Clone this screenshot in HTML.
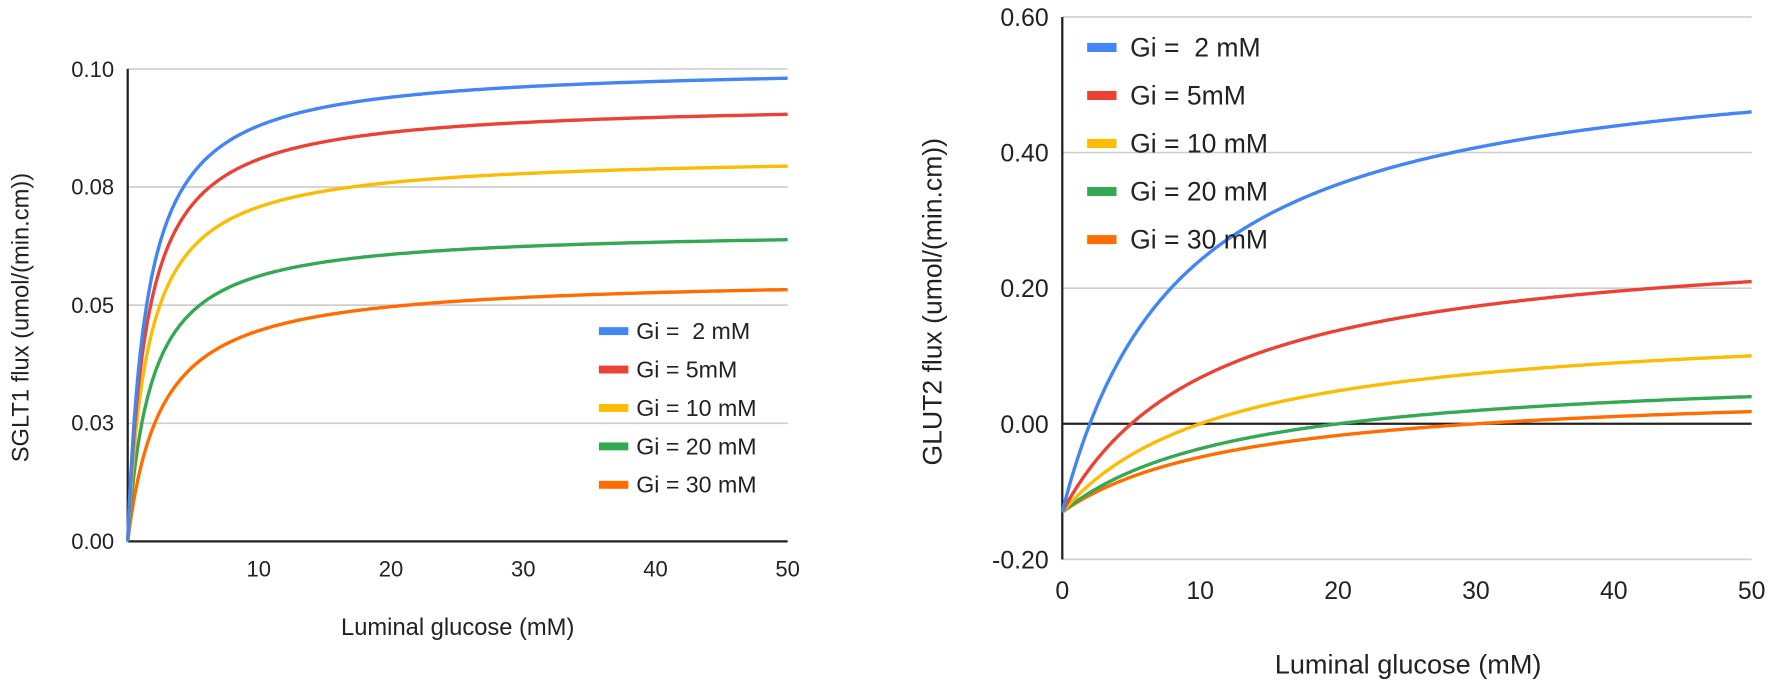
<!DOCTYPE html>
<html><head><meta charset="utf-8"><style>
html,body{margin:0;padding:0;background:#fff;}
svg{display:block;font-family:"Liberation Sans",Arial,sans-serif;}
</style></head><body>
<svg id="s" width="1772" height="684" viewBox="0 0 1772 684" xmlns="http://www.w3.org/2000/svg">
<g transform="scale(1.1301)">
<g stroke="#cfcfcf" stroke-width="1.5">
<line x1="113" y1="61" x2="697" y2="61"/>
<line x1="113" y1="165.5" x2="697" y2="165.5"/>
<line x1="113" y1="270" x2="697" y2="270"/>
<line x1="113" y1="374.5" x2="697" y2="374.5"/>
<line x1="940" y1="15" x2="1550" y2="15"/>
<line x1="940" y1="135" x2="1550" y2="135"/>
<line x1="940" y1="255" x2="1550" y2="255"/>
<line x1="940" y1="495" x2="1550" y2="495"/>
</g>
<g stroke="#222" stroke-width="2">
<line x1="113" y1="61" x2="113" y2="479"/>
<line x1="113" y1="479" x2="697" y2="479"/>
<line x1="940" y1="15" x2="940" y2="495"/>
<line x1="940" y1="375" x2="1550" y2="375"/>
</g>
<g id="curves" fill="none" stroke-width="3"></g>
<g font-size="19.5" fill="#222" text-anchor="end">
<text x="101" y="68">0.10</text>
<text x="101" y="172">0.08</text>
<text x="101" y="277">0.05</text>
<text x="101" y="381">0.03</text>
<text x="101" y="486">0.00</text>
</g>
<g font-size="19.5" fill="#222" text-anchor="middle">
<text x="229" y="510">10</text>
<text x="346" y="510">20</text>
<text x="463" y="510">30</text>
<text x="580" y="510">40</text>
<text x="697" y="510">50</text>
<text x="405" y="562" font-size="21">Luminal glucose (mM)</text>
<text transform="translate(25,281) rotate(-90)" font-size="21">SGLT1 flux (umol/(min.cm))</text>
</g>
<g font-size="22" fill="#222" text-anchor="end">
<text x="928" y="23">0.60</text>
<text x="928" y="143">0.40</text>
<text x="928" y="263">0.20</text>
<text x="928" y="383">0.00</text>
<text x="928" y="503">-0.20</text>
</g>
<g font-size="22" fill="#222" text-anchor="middle">
<text x="940" y="530">0</text>
<text x="1062" y="530">10</text>
<text x="1184" y="530">20</text>
<text x="1306" y="530">30</text>
<text x="1428" y="530">40</text>
<text x="1550" y="530">50</text>
<text x="1246" y="596" font-size="24">Luminal glucose (mM)</text>
<text transform="translate(833,267) rotate(-90)" font-size="23.5">GLUT2 flux (umol/(min.cm))</text>
</g>
<g id="leg"></g>
</g>
</svg>
<script>
var cols=["#4285f4","#ea4335","#fbbc04","#34a853","#ff6d01"];
var g=document.getElementById("curves"),lg=document.getElementById("leg");
var L=[[0.1009,1.46],[0.0931,1.5],[0.0819,1.56],[0.0661,1.76],[0.0560,2.54]];
var R=[[0.562,8.65,2],[0.284,10.94,5],[0.155,11.9,10],[0.084,12.9,20],[0.0568,13.1,30]];
var ns="http://www.w3.org/2000/svg";
function path(d,c){var p=document.createElementNS(ns,"path");p.setAttribute("d",d);p.setAttribute("stroke",c);g.appendChild(p);}
for(var i=4;i>=0;i--){
 var d="",e="";
 for(var k=0;k<=500;k++){var x=k/10;
  var y=L[i][0]*x/(L[i][1]+x);
  d+=(k?"L":"M")+(113+x*11.68).toFixed(1)+" "+(479-y*4180).toFixed(1);
  var r=R[i][0]*(x-R[i][2])/(R[i][1]+x);
  e+=(k?"L":"M")+(940+x*12.2).toFixed(1)+" "+(375-r*600).toFixed(1);}
 path(d,cols[i]);path(e,cols[i]);}
var labL=["Gi =  2 mM","Gi = 5mM","Gi = 10 mM","Gi = 20 mM","Gi = 30 mM"];
var h="";
for(var i=0;i<5;i++){
 var y=293+i*34;
 h+='<rect x="530" y="'+(y-3.5)+'" width="26" height="7" fill="'+cols[i]+'"/><text x="563" y="'+(y+7)+'" font-size="20.5" fill="#222" xml:space="preserve">'+labL[i]+'</text>';
 var y2=42+i*42.5;
 h+='<rect x="962" y="'+(y2-4)+'" width="26" height="8" fill="'+cols[i]+'"/><text x="1000" y="'+(y2+8)+'" font-size="23.5" fill="#222" xml:space="preserve">'+labL[i]+'</text>';}
lg.innerHTML=h;
</script>
</body></html>
